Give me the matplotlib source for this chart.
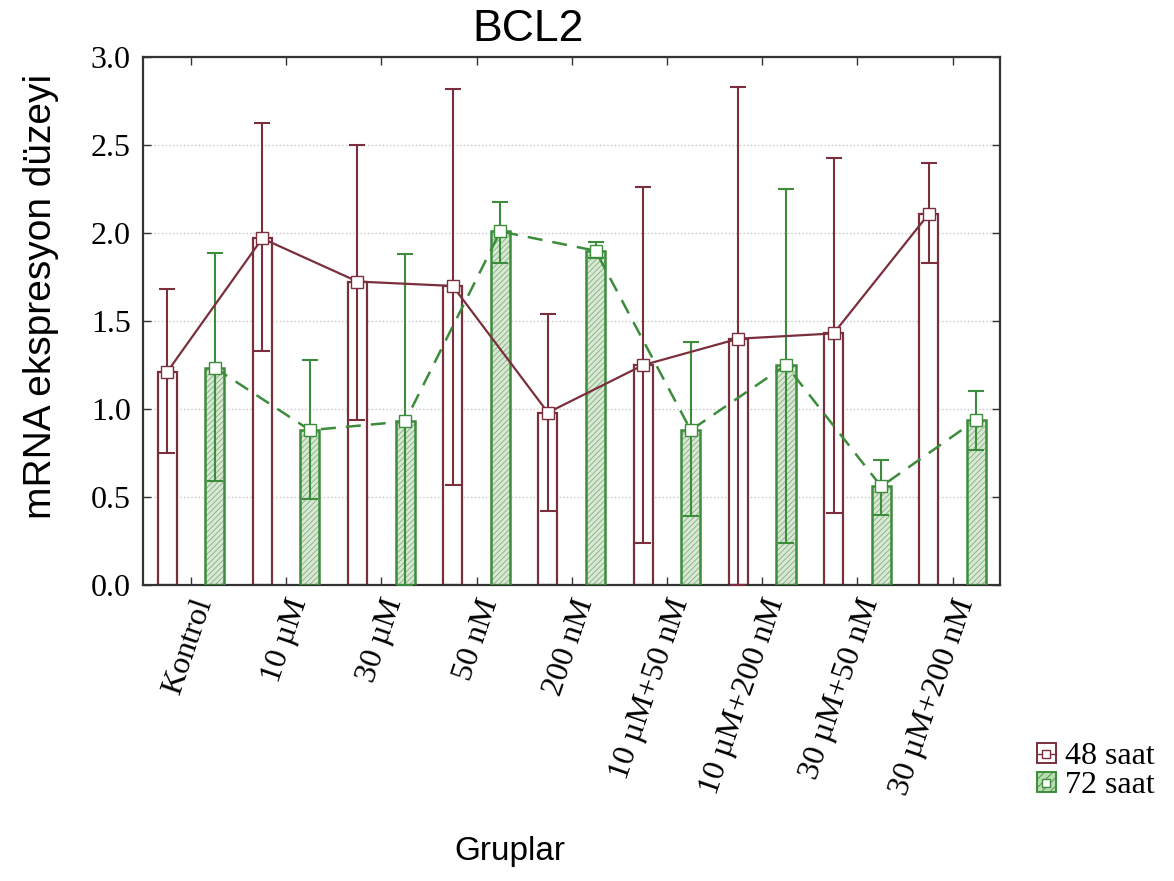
import matplotlib
matplotlib.use('Agg')
import matplotlib.pyplot as plt
import numpy as np
from matplotlib.patches import Patch
from matplotlib.lines import Line2D
from matplotlib.legend_handler import HandlerTuple

# data
groups = ['Kontrol', '10 µM', '30 µM', '50 nM', '200 nM',
          '10 µM+50 nM', '10 µM+200 nM', '30 µM+50 nM', '30 µM+200 nM']
mean_48 = [1.21, 1.97, 1.725, 1.70, 0.98, 1.25, 1.40, 1.43, 2.11]
upper_48 = [1.68, 2.625, 2.50, 2.82, 1.54, 2.26, 2.83, 2.43, 2.40]
lower_48 = [0.75, 1.33, 0.94, 0.57, 0.42, 0.24, 0.0, 0.41, 1.83]
mean_72 = [1.235, 0.88, 0.93, 2.01, 1.90, 0.88, 1.25, 0.56, 0.94]
upper_72 = [1.89, 1.28, 1.88, 2.18, 1.95, 1.38, 2.25, 0.71, 1.10]
lower_72 = [0.59, 0.49, 0.0, 1.83, 1.86, 0.39, 0.24, 0.40, 0.77]

c48 = '#7a2f3c'
c72 = '#3c8c3c'
serif = 'Liberation Serif'
sans = 'Liberation Sans'

fig = plt.figure(figsize=(11.74, 8.81), dpi=100)
ax = fig.add_axes([0.122, 0.336, 0.730, 0.599])

x = np.arange(len(groups))
off = 0.25
w = 0.2
m48 = np.array(mean_48)
m72 = np.array(mean_72)
err48 = [m48 - np.array(lower_48), np.array(upper_48) - m48]
err72 = [m72 - np.array(lower_72), np.array(upper_72) - m72]

ax.set_axisbelow(True)
ax.yaxis.grid(True, linestyle=':', color='#c8c8c8', linewidth=1)

# 48 saat: white bars
ax.bar(x - off, m48, w, facecolor='white', edgecolor=c48, linewidth=1.6, zorder=2)
# 72 saat: hatched bars
plt.rcParams['hatch.linewidth'] = 0.6
ax.bar(x + off, m72, w, facecolor='#d6ead2', edgecolor='#8aa888', hatch='//////',
       linewidth=0, zorder=2)
ax.bar(x + off, m72, w, facecolor='none', edgecolor=c72, linewidth=1.8, zorder=3)

ax.errorbar(x - off, m48, yerr=err48, fmt='none', ecolor=c48, elinewidth=1.5,
            capsize=6, capthick=1.5, zorder=4)
ax.errorbar(x + off, m72, yerr=err72, fmt='none', ecolor=c72, elinewidth=1.5,
            capsize=6, capthick=1.5, zorder=4)

ax.plot(x - off, m48, '-', color=c48, linewidth=1.6, marker='s', markersize=8,
        markerfacecolor='white', markeredgecolor=c48, zorder=5)
ax.plot(x + off, m72, '--', color=c72, linewidth=1.8, dashes=(6, 4), marker='s',
        markersize=8, markerfacecolor='white', markeredgecolor=c72, zorder=5)

ax.set_xlim(-0.5, len(groups) - 0.5)
ax.set_ylim(0, 3.0)
ax.set_yticks(np.arange(0, 3.01, 0.5))
ax.set_yticklabels([f'{v:.1f}' for v in np.arange(0, 3.01, 0.5)],
                   fontsize=23, family=serif)
ax.set_xticks(x)
ax.set_xticklabels(groups, rotation=71, ha='right', rotation_mode='anchor',
                   fontsize=23, family=serif)
ax.tick_params(direction='in', length=6, width=1, top=True, right=True,
               color='#333333')
ax.tick_params(axis='y', pad=9)
ax.tick_params(axis='x', pad=7)
for s in ax.spines.values():
    s.set_linewidth(1.6)
    s.set_color('#333333')

fig.text(0.45, 0.966, 'BCL2', fontsize=32, family=sans, ha='center', va='center')
fig.text(0.035, 0.663, 'mRNA ekspresyon düzeyi', fontsize=28, family=sans,
         rotation=90, ha='center', va='center')
fig.text(0.434, 0.033, 'Gruplar', fontsize=24, family=sans, ha='center', va='center')

h48 = (Patch(facecolor='white', edgecolor=c48, linewidth=1.4),
       Line2D([], [], color=c48, marker='s', markersize=6, linewidth=1,
              markerfacecolor='white', markeredgecolor=c48))
h72 = (Patch(facecolor='#b8dcb0', edgecolor=c72, hatch='////', linewidth=1.4),
       Line2D([], [], color=c72, marker='s', markersize=6, linestyle='none',
              markerfacecolor='white', markeredgecolor=c72))
fig.legend([h48, h72], ['48 saat', '72 saat'],
           handler_map={tuple: HandlerTuple(ndivide=1, pad=0)},
           loc='upper left', bbox_to_anchor=(0.872, 0.172), frameon=False,
           prop={'family': serif, 'size': 23}, handlelength=0.6,
           handleheight=0.6, handletextpad=0.3, labelspacing=0.0,
           borderaxespad=0)

fig.savefig('out.png', dpi=100)
